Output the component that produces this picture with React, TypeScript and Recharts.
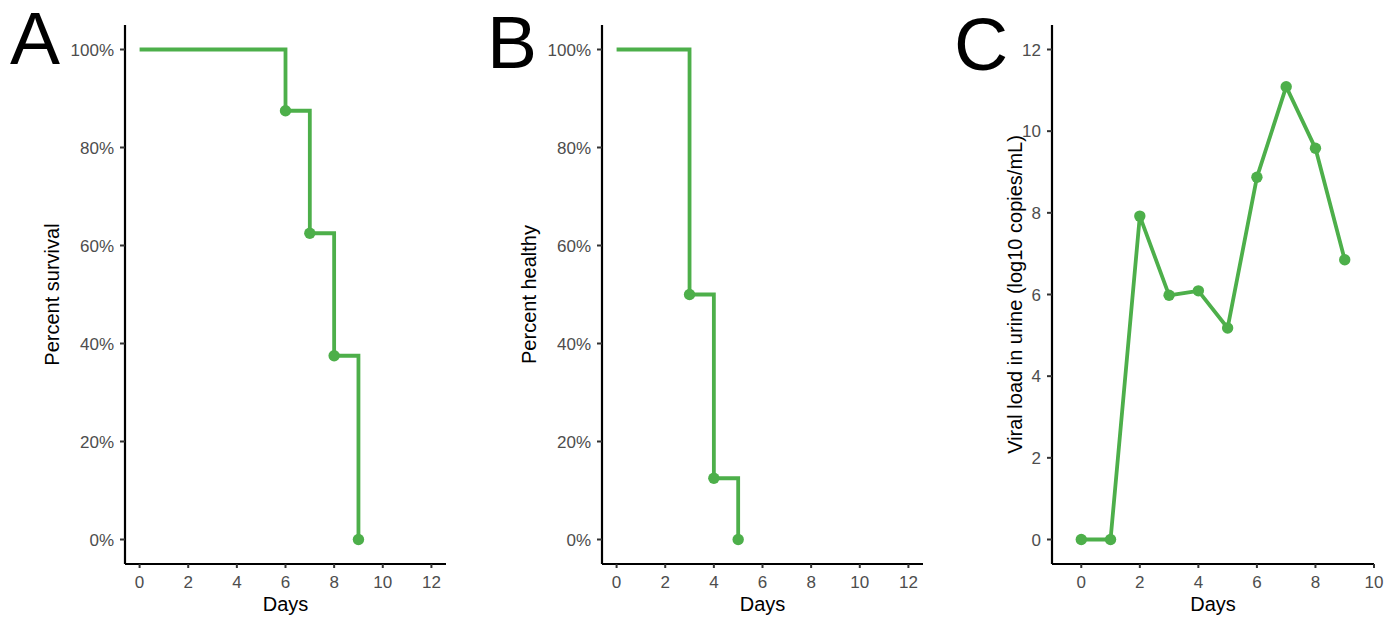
import React from 'react';
import { LineChart, Line, XAxis, YAxis } from 'recharts';

// Panel A: survival over time
const survivalDays = [0, 6, 7, 8, 9];
const survivalPct = [100, 87.5, 62.5, 37.5, 0];

// Panel B: proportion still healthy
const healthyDays = [0, 3, 4, 5];
const healthyPct = [100, 50, 12.5, 0];

// Panel C: urine viral load (log10 copies/mL)
const loadDays = [0, 1, 2, 3, 4, 5, 6, 7, 8, 9];
const loadValues = [0, 0, 7.92, 5.98, 6.09, 5.18, 8.87, 11.09, 9.58, 6.85];

const dayTicksAB = [0, 2, 4, 6, 8, 10, 12];
const dayTicksC = [0, 2, 4, 6, 8, 10];
const pctTicks = [0, 20, 40, 60, 80, 100];
const loadTicks = [0, 2, 4, 6, 8, 10, 12];

const panelLetters = ['A', 'B', 'C'];

const GREEN = '#4DAF4A';
const FONT = '"Liberation Sans", Arial, Helvetica, sans-serif';
const CHART_H = 625;

const zip = (xs: number[], ys: number[]) => xs.map((x, i) => ({ day: x, value: ys[i] }));

const tickStyle = { fill: '#4D4D4D', fontSize: 17, fontFamily: FONT };

const makeDot = (skipFirst: boolean) => (p: any) => {
  if (skipFirst && p.index === 0) return <g key={`dot-${p.index}`} />;
  return <circle key={`dot-${p.index}`} cx={p.cx} cy={p.cy} r={5.7} fill={GREEN} stroke="none" />;
};

const yTitle = (text: string, gap: number) => (props: any) => {
  const vb = props.viewBox || { x: 0, y: 0, width: 0, height: 0 };
  const x = vb.x + vb.width - gap;
  const y = vb.y + vb.height / 2;
  return (
    <text
      x={x}
      y={y}
      transform={`rotate(-90 ${x} ${y})`}
      textAnchor="middle"
      fill="#000"
      fontSize={20}
      fontFamily={FONT}
    >
      {text}
    </text>
  );
};

const xTitle = (text: string, baselineFromAxis: number) => (props: any) => {
  const vb = props.viewBox || { x: 0, y: 0, width: 0, height: 0 };
  const x = vb.x + vb.width / 2;
  const y = vb.y + baselineFromAxis;
  return (
    <text x={x} y={y} textAnchor="middle" fill="#000" fontSize={20} fontFamily={FONT}>
      {text}
    </text>
  );
};

type PanelProps = {
  left: number;
  width: number;
  data: { day: number; value: number }[];
  step: boolean;
  skipFirstDot: boolean;
  xDomain: [number, number];
  xTicks: number[];
  yDomain: [number, number];
  yTicks: number[];
  yFormat: (v: number) => string;
  yAxisWidth: number;
  margin: { top: number; right: number; bottom: number; left: number };
  yLabel: string;
  yLabelGap: number;
};

function Panel(p: PanelProps) {
  return (
    <div style={{ position: 'absolute', left: p.left, top: 0, width: p.width, height: CHART_H }}>
      <LineChart width={p.width} height={CHART_H} data={p.data} margin={p.margin}>
        <XAxis
          dataKey="day"
          type="number"
          domain={p.xDomain}
          ticks={p.xTicks}
          interval={0}
          allowDataOverflow
          height={50}
          axisLine={{ stroke: '#000', strokeWidth: 2.2 }}
          tickLine={{ stroke: '#333', strokeWidth: 2 }}
          tickSize={4}
          tickMargin={8}
          tick={tickStyle}
          label={xTitle('Days', 47)}
        />
        <YAxis
          type="number"
          domain={p.yDomain}
          ticks={p.yTicks}
          interval={0}
          allowDataOverflow
          width={p.yAxisWidth}
          axisLine={{ stroke: '#000', strokeWidth: 2.2 }}
          tickLine={{ stroke: '#333', strokeWidth: 2 }}
          tickSize={5}
          tickMargin={6}
          tick={tickStyle}
          tickFormatter={p.yFormat}
          label={yTitle(p.yLabel, p.yLabelGap)}
        />
        <Line
          dataKey="value"
          type={p.step ? 'stepAfter' : 'linear'}
          stroke={GREEN}
          strokeWidth={3.8}
          strokeLinejoin={p.step ? 'miter' : 'round'}
          dot={makeDot(p.skipFirstDot)}
          activeDot={false}
          isAnimationActive={false}
        />
      </LineChart>
    </div>
  );
}

const pct = (v: number) => `${v}%`;
const plain = (v: number) => `${v}`;

export default function App() {
  return (
    <div
      style={{
        position: 'absolute',
        left: 0,
        top: 0,
        width: 1392,
        height: CHART_H,
        background: '#fff',
        overflow: 'hidden',
      }}
    >
      <Panel
        left={0}
        width={460}
        data={zip(survivalDays, survivalPct)}
        step
        skipFirstDot
        xDomain={[-0.6, 12.6]}
        xTicks={dayTicksAB}
        yDomain={[-5, 105]}
        yTicks={pctTicks}
        yFormat={pct}
        yAxisWidth={60}
        margin={{ top: 25, right: 14, bottom: 11, left: 65 }}
        yLabel="Percent survival"
        yLabelGap={66}
      />
      <Panel
        left={470}
        width={470}
        data={zip(healthyDays, healthyPct)}
        step
        skipFirstDot
        xDomain={[-0.6, 12.6]}
        xTicks={dayTicksAB}
        yDomain={[-5, 105]}
        yTicks={pctTicks}
        yFormat={pct}
        yAxisWidth={60}
        margin={{ top: 25, right: 17, bottom: 11, left: 72 }}
        yLabel="Percent healthy"
        yLabelGap={66}
      />
      <Panel
        left={940}
        width={452}
        data={zip(loadDays, loadValues)}
        step={false}
        skipFirstDot={false}
        xDomain={[-1, 10]}
        xTicks={dayTicksC}
        yDomain={[-0.6, 12.6]}
        yTicks={loadTicks}
        yFormat={plain}
        yAxisWidth={40}
        margin={{ top: 25, right: 18, bottom: 11, left: 72 }}
        yLabel="Viral load in urine (log10 copies/mL)"
        yLabelGap={30}
      />
      <svg
        width={1392}
        height={CHART_H}
        style={{ position: 'absolute', left: 0, top: 0, pointerEvents: 'none' }}
      >
        <text x={10} y={64} fontSize={75} fontFamily={FONT} fill="#000">{panelLetters[0]}</text>
        <text x={487} y={68} fontSize={75} fontFamily={FONT} fill="#000">{panelLetters[1]}</text>
        <text x={954} y={70} fontSize={75} fontFamily={FONT} fill="#000">{panelLetters[2]}</text>
      </svg>
    </div>
  );
}
